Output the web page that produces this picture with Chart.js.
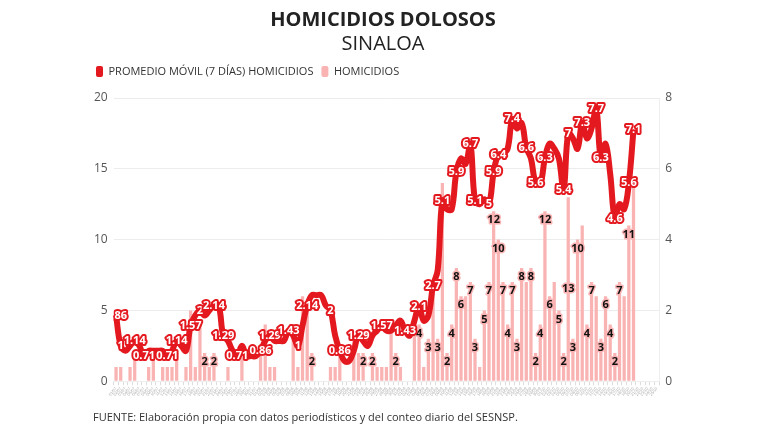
<!DOCTYPE html>
<html>
<head>
<meta charset="utf-8">
<script src="https://cdn.jsdelivr.net/npm/chart.js@4.4.1/dist/chart.umd.min.js"></script>
<style>
  html, body { margin: 0; padding: 0; background: #fff; }
  #wrap { position: relative; width: 768px; height: 432px; }
  #fuente { position: absolute; left: 93px; top: 409px; font: 11px "Open Sans", sans-serif; color: #333; }
</style>
</head>
<body>
<div id="wrap">
  <canvas id="homicidiosChart" width="768" height="432"></canvas>
  <div id="fuente">FUENTE: Elaboración propia con datos periodísticos y del conteo diario del SESNSP.</div>
</div>
<script>
// fechas (1 jul - 25 oct)
const fechas = [
  '01/07','02/07','03/07','04/07','05/07','06/07','07/07','08/07','09/07','10/07','11/07','12/07','13/07','14/07','15/07','16/07',
  '17/07','18/07','19/07','20/07','21/07','22/07','23/07','24/07','25/07','26/07','27/07','28/07','29/07','30/07','31/07',
  '01/08','02/08','03/08','04/08','05/08','06/08','07/08','08/08','09/08','10/08','11/08','12/08','13/08','14/08','15/08','16/08',
  '17/08','18/08','19/08','20/08','21/08','22/08','23/08','24/08','25/08','26/08','27/08','28/08','29/08','30/08','31/08',
  '01/09','02/09','03/09','04/09','05/09','06/09','07/09','08/09','09/09','10/09','11/09','12/09','13/09','14/09','15/09',
  '16/09','17/09','18/09','19/09','20/09','21/09','22/09','23/09','24/09','25/09','26/09','27/09','28/09','29/09','30/09',
  '01/10','02/10','03/10','04/10','05/10','06/10','07/10','08/10','09/10','10/10','11/10','12/10','13/10','14/10','15/10',
  '16/10','17/10','18/10','19/10','20/10','21/10','22/10','23/10','24/10','25/10'
];

// homicidios diarios
const homicidios = [
  1, 1, 0, 1, 2, 0, 0, 1, 2, 0, 1, 1, 1, 2, 0, 1, 5, 1, 4, 2,
  1, 2, 0, 0, 1, 0, 0, 2, 0, 0, 0, 2, 4, 1, 1, 0, 0, 0, 3, 1,
  6, 5, 2, 0, 0, 0, 1, 1, 2, 0, 0, 3, 2, 2, 0, 2, 1, 1, 1, 4,
  2, 1, 0, 0, 4, 4, 1, 3, 7, 3, 14, 2, 4, 8, 6, 6, 7, 3, 1, 5,
  7, 12, 10, 7, 4, 7, 3, 8, 7, 8, 2, 4, 12, 6, 7, 5, 2, 13, 3, 10,
  11, 4, 7, 6, 3, 6, 4, 2, 7, 6, 11, 14
];

// promedio movil 7 dias
const promedio = [
  1.86, 1, 0.86, 1, 1.14, 1, 0.71, 0.86, 0.86, 0.86, 0.86, 0.71, 0.86, 1.14, 1, 0.86, 1.57, 1.86, 2, 1.86,
  2, 2.14, 2.14, 1.29, 1.14, 0.86, 0.71, 1, 0.71, 0.71, 0.71, 0.86, 1.14, 1.29, 1.14, 1.14, 1.14, 1.43, 1.29, 1,
  1.57, 2.14, 2.43, 2.43, 2.43, 2.14, 2, 1.29, 0.86, 0.57, 0.57, 0.86, 1.29, 1.14, 1, 1.29, 1.43, 1.57, 1.43, 1.43,
  1.57, 1.71, 1.43, 1.29, 1.71, 2.1, 1.71, 1.86, 2.7, 3.14, 5.1, 4.86, 4.86, 5.9, 6.29, 6.14, 6.7, 5.1, 5, 5.14,
  5, 5.9, 6.4, 6.43, 6.57, 7.4, 7.14, 7.29, 6.6, 6.29, 5.6, 5.57, 6.3, 6.71, 6.57, 6.29, 5.4, 7, 6.86, 6.57,
  7.3, 6.86, 7.14, 7.7, 6.3, 6.71, 5.86, 4.6, 5, 4.86, 5.6, 7.1
];

// which points carry a value label
const etiquetasPromedio = [0, 1, 4, 6, 11, 13, 16, 18, 21, 23, 26, 31, 33, 37, 39, 41, 46, 48, 52, 57, 62, 65, 68, 70,
  73, 76, 77, 80, 81, 82, 85, 88, 90, 92, 96, 97, 100, 103, 104, 107, 110, 111];
const etiquetasHomicidios = [19, 21, 42, 53, 55, 60, 65, 67, 69, 71, 72, 73, 74, 76, 77, 79, 80, 81, 82, 83, 84, 85, 86,
  87, 89, 90, 91, 92, 93, 95, 96, 97, 98, 99, 101, 102, 104, 105, 106, 107, 108, 110];
const etiquetasAlCentro = [97];

const ROJO = '#e4191f';
const ROSA = '#fab3b3';

// extra room under the legend
const legendGap = {
  id: 'legendGap',
  beforeInit(chart) {
    const fit = chart.legend.fit;
    chart.legend.fit = function() {
      fit.bind(chart.legend)();
      this.height += 11;
    };
  }
};

// draws the data labels (bars first, then the moving average on top)
const etiquetasPlugin = {
  id: 'etiquetas',
  afterDatasetsDraw(chart) {
    const ctx = chart.ctx;
    const area = chart.chartArea;
    ctx.save();
    ctx.beginPath();
    ctx.rect(area.left, area.top - 20, area.right - area.left + 20, area.bottom - area.top + 20);
    ctx.clip();
    ctx.textAlign = 'center';
    ctx.textBaseline = 'middle';
    ctx.lineJoin = 'round';

    const barras = chart.getDatasetMeta(1).data;
    ctx.font = 'bold 11px "Open Sans", sans-serif';
    etiquetasHomicidios.forEach(i => {
      const bar = barras[i];
      if (!bar) return;
      const y = etiquetasAlCentro.includes(i) ? (bar.y + bar.base) / 2 : bar.y + 9;
      ctx.lineWidth = 3;
      ctx.strokeStyle = ROSA;
      ctx.strokeText(homicidios[i], bar.x, y);
      ctx.fillStyle = '#111';
      ctx.fillText(homicidios[i], bar.x, y);
    });

    const puntos = chart.getDatasetMeta(0).data;
    ctx.font = 'bold 11px "Open Sans", sans-serif';
    etiquetasPromedio.forEach(i => {
      const p = puntos[i];
      if (!p) return;
      ctx.lineWidth = 4;
      ctx.strokeStyle = ROJO;
      ctx.strokeText(promedio[i], p.x, p.y);
      ctx.fillStyle = '#fff';
      ctx.fillText(promedio[i], p.x, p.y);
    });
    ctx.restore();
  }
};

const ctx = document.getElementById('homicidiosChart').getContext('2d');
window.homicidiosChart = new Chart(ctx, {
  data: {
    labels: fechas,
    datasets: [
      {
        type: 'line',
        label: 'PROMEDIO MÓVIL (7 DÍAS) HOMICIDIOS',
        data: promedio,
        yAxisID: 'y1',
        borderColor: ROJO,
        backgroundColor: ROJO,
        borderWidth: 6,
        tension: 0.4,
        pointRadius: 0,
        order: 0
      },
      {
        type: 'bar',
        label: 'HOMICIDIOS',
        data: homicidios,
        yAxisID: 'y',
        backgroundColor: ROSA,
        categoryPercentage: 1,
        barPercentage: 0.7,
        order: 1
      }
    ]
  },
  options: {
    responsive: false,
    animation: false,
    layout: { padding: { left: 88, right: 90, top: 0, bottom: 34 } },
    plugins: {
      title: {
        display: true,
        text: 'HOMICIDIOS DOLOSOS',
        color: '#222',
        font: { family: '"Open Sans", sans-serif', size: 20, weight: 'bold' },
        padding: { top: 8, bottom: 0 }
      },
      subtitle: {
        display: true,
        text: 'SINALOA',
        color: '#222',
        font: { family: '"Open Sans", sans-serif', size: 20 },
        padding: { top: 0, bottom: 2 }
      },
      legend: {
        align: 'start',
        labels: {
          color: '#333',
          font: { family: '"Open Sans", sans-serif', size: 11 },
          boxWidth: 7,
          boxHeight: 11,
          useBorderRadius: true,
          borderRadius: 2,
          padding: 8,
          generateLabels: chart => chart.data.datasets.map((ds, i) => ({
            text: ds.label,
            fillStyle: ds.backgroundColor,
            strokeStyle: ds.backgroundColor,
            lineWidth: 0,
            hidden: false,
            datasetIndex: i,
            fontColor: '#333',
            borderRadius: 2
          }))
        }
      },
      tooltip: { enabled: false }
    },
    scales: {
      x: {
        grid: { display: true, drawOnChartArea: false, color: '#ddd', tickLength: 4 },
        border: { color: '#eee' },
        ticks: {
          autoSkip: false,
          maxRotation: 50,
          minRotation: 50,
          padding: 1,
          color: '#aaa',
          font: { size: 4 }
        }
      },
      y: {
        position: 'left',
        min: 0,
        max: 20,
        ticks: { stepSize: 5, color: '#555', font: { family: '"Open Sans", sans-serif', size: 12 }, padding: 6 },
        grid: { color: '#ececec', drawTicks: false },
        border: { display: false }
      },
      y1: {
        position: 'right',
        min: 0,
        max: 8,
        ticks: { stepSize: 2, color: '#555', font: { family: '"Open Sans", sans-serif', size: 12 }, padding: 6 },
        grid: { drawOnChartArea: false, drawTicks: false },
        border: { color: '#eee' }
      }
    }
  },
  plugins: [legendGap, etiquetasPlugin]
});
</script>
</body>
</html>
